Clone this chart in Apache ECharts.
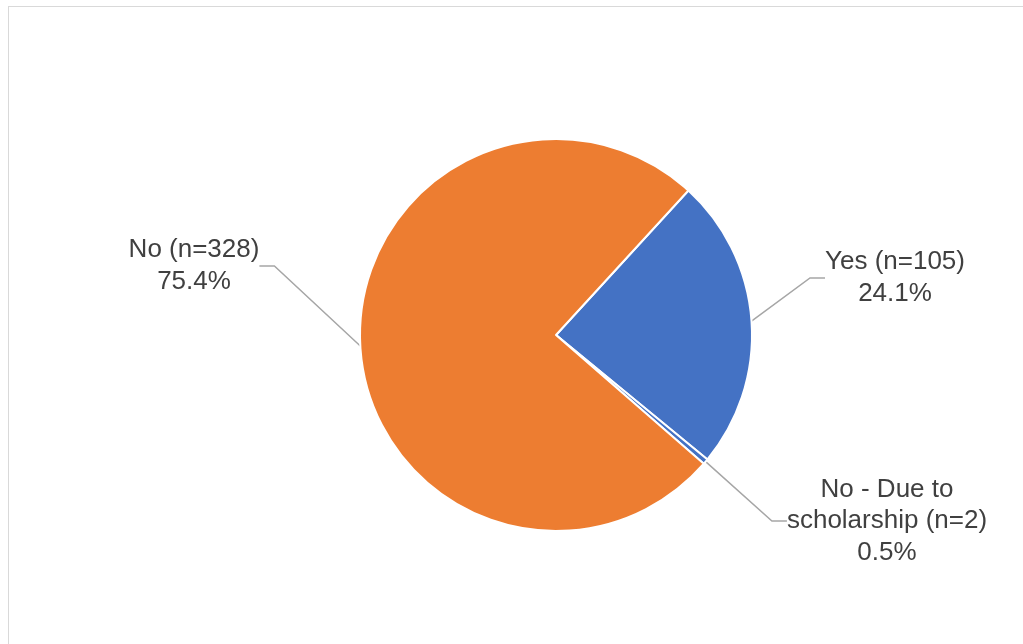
<!DOCTYPE html>
<html>
<head>
<meta charset="utf-8">
<script src="https://cdn.jsdelivr.net/npm/echarts@6/dist/echarts.min.js"></script>
<style>
html,body{margin:0;padding:0;background:#fff;}
#frame{position:absolute;left:8px;top:6px;width:1100px;height:700px;border:1px solid #d9d9d9;box-sizing:border-box;}
#chart{position:absolute;left:0;top:0;width:1023px;height:644px;}
</style>
</head>
<body>
<div id="frame"></div>
<div id="chart"></div>
<script>
const categories = ['Yes', 'No - Due to scholarship', 'No'];
const counts = [105, 2, 328];
const labelTexts = ['Yes (n=105)', 'No - Due to\nscholarship (n=2)', 'No (n=328)'];
const percentLabels = ['24.1%', '0.5%', '75.4%'];
const colors = ['#4472C4', '#4472C4', '#ED7D31'];

const labelPos = [
  {x: 895, y: 278},
  {x: 887, y: 521},
  {x: 194, y: 266}
];

const chart = echarts.init(document.getElementById('chart'), null, {renderer: 'canvas'});
chart.setOption({
  animation: false,
  backgroundColor: 'transparent',
  series: [{
    type: 'pie',
    center: [556, 335],
    radius: [0, 196],
    startAngle: 47.5,
    clockwise: true,
    avoidLabelOverlap: false,
    data: categories.map((c, i) => ({
      name: c,
      value: counts[i],
      itemStyle: {color: colors[i]},
      label: {formatter: labelTexts[i] + '\n' + percentLabels[i]}
    })),
    itemStyle: {borderColor: '#fff', borderWidth: 2},
    label: {
      show: true,
      fontFamily: 'Liberation Sans, Arial, sans-serif',
      fontSize: 26,
      lineHeight: 31.5,
      color: '#404040',
      align: 'center'
    },
    labelLine: {
      show: true,
      length: 20,
      length2: 15,
      lineStyle: {color: '#a6a6a6', width: 1.5}
    },
    labelLayout: function (params) {
      const p = labelPos[params.dataIndex];
      return {x: p.x, y: p.y, align: 'center', verticalAlign: 'middle'};
    },
    emphasis: {disabled: true}
  }]
});
</script>
</body>
</html>
